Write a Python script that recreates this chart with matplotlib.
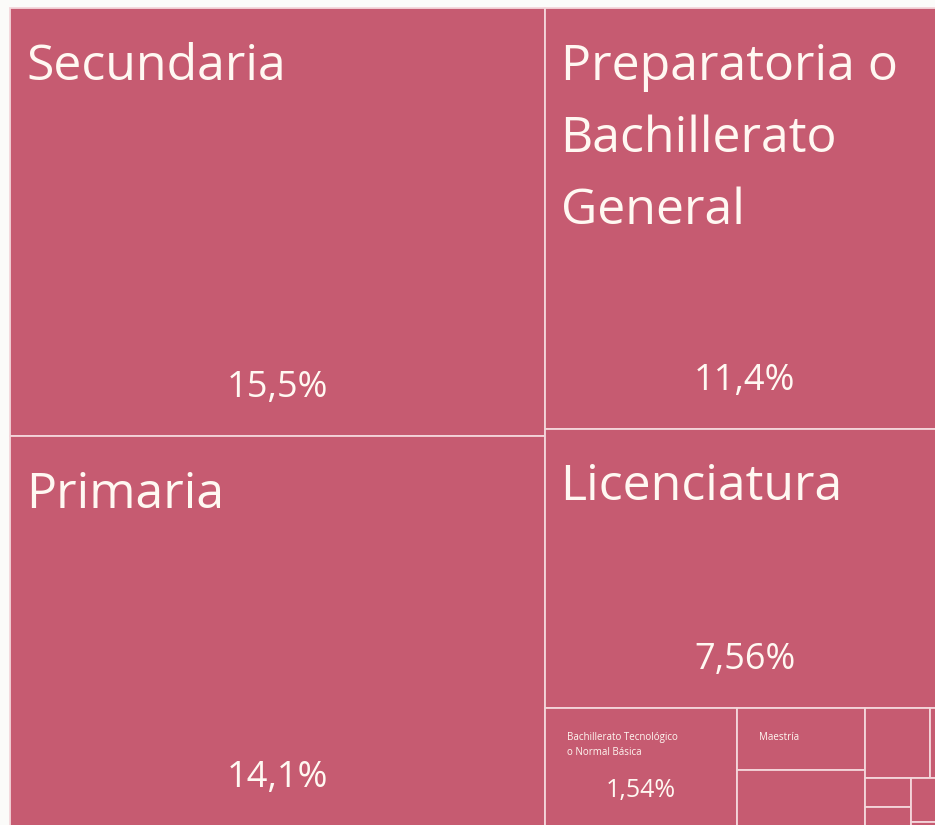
import matplotlib
matplotlib.use("Agg")
import matplotlib.pyplot as plt
from matplotlib.patches import Rectangle

# ── data (percent of population by schooling level) ──────────────────────────
names = ["Secundaria", "Primaria", "Preparatoria o\nBachillerato\nGeneral",
         "Licenciatura", "Bachillerato Tecnológico\no Normal Básica", "Maestría",
         "", "", "", "", "", "", ""]
values = [15.5, 14.1, 11.4, 7.56, 1.54, 0.54, 0.49, 0.31, 0.07, 0.09, 0.06, 0.10, 0.01]

# nesting of the treemap (indices into names/values); orientation alternates
tree = [[0, 1], [2, 3, [4, [5, 6], [[7, 8], [[9, 10], [11, 12]]]]]]

FILL = "#C65B71"
EDGE = "#F4D6DB"
TXT = "#FFF8F2"
FONT = "Open Sans"


def node_value(node):
    if isinstance(node, int):
        return values[node]
    return sum(node_value(c) for c in node)


def layout(node, x, y, w, h, depth, out):
    if isinstance(node, int):
        out[node] = (x, y, w, h)
        return
    total = node_value(node)
    pos = x if depth % 2 == 0 else y
    for c in node:
        frac = node_value(c) / total
        if depth % 2 == 0:
            layout(c, pos, y, w * frac, h, depth + 1, out)
            pos += w * frac
        else:
            layout(c, x, pos, w, h * frac, depth + 1, out)
            pos += h * frac


rects = {}
layout(tree, 10, 8, 935, 818, 0, rects)

fig = plt.figure(figsize=(9.35, 8.25), dpi=100, facecolor="#FBFBF9")
ax = fig.add_axes([0, 0, 1, 1])
ax.set_xlim(0, 935)
ax.set_ylim(825, 0)
ax.axis("off")

for i, (x, y, w, h) in rects.items():
    ax.add_patch(Rectangle((x, y), w, h, facecolor=FILL, edgecolor=EDGE, lw=1.3))
    big = w > 300
    if names[i] and w > 100 and h > 50:
        ax.text(x + (16 if big else 22), y + (34 if big else 24), names[i],
                fontsize=36 if big else 7, color=TXT, family=FONT,
                va="top", ha="left", linespacing=1.6 if big else 1.5)
    if w > 150 and h > 90:
        pct = f"{values[i]:.3g}".replace(".", ",") + "%"
        ax.text(x + w / 2, y + h - min(48, 0.3 * h), pct,
                fontsize=26 if big else 18, color=TXT, family=FONT,
                ha="center", va="center")

fig.savefig("out.png", dpi=100, facecolor=fig.get_facecolor())
